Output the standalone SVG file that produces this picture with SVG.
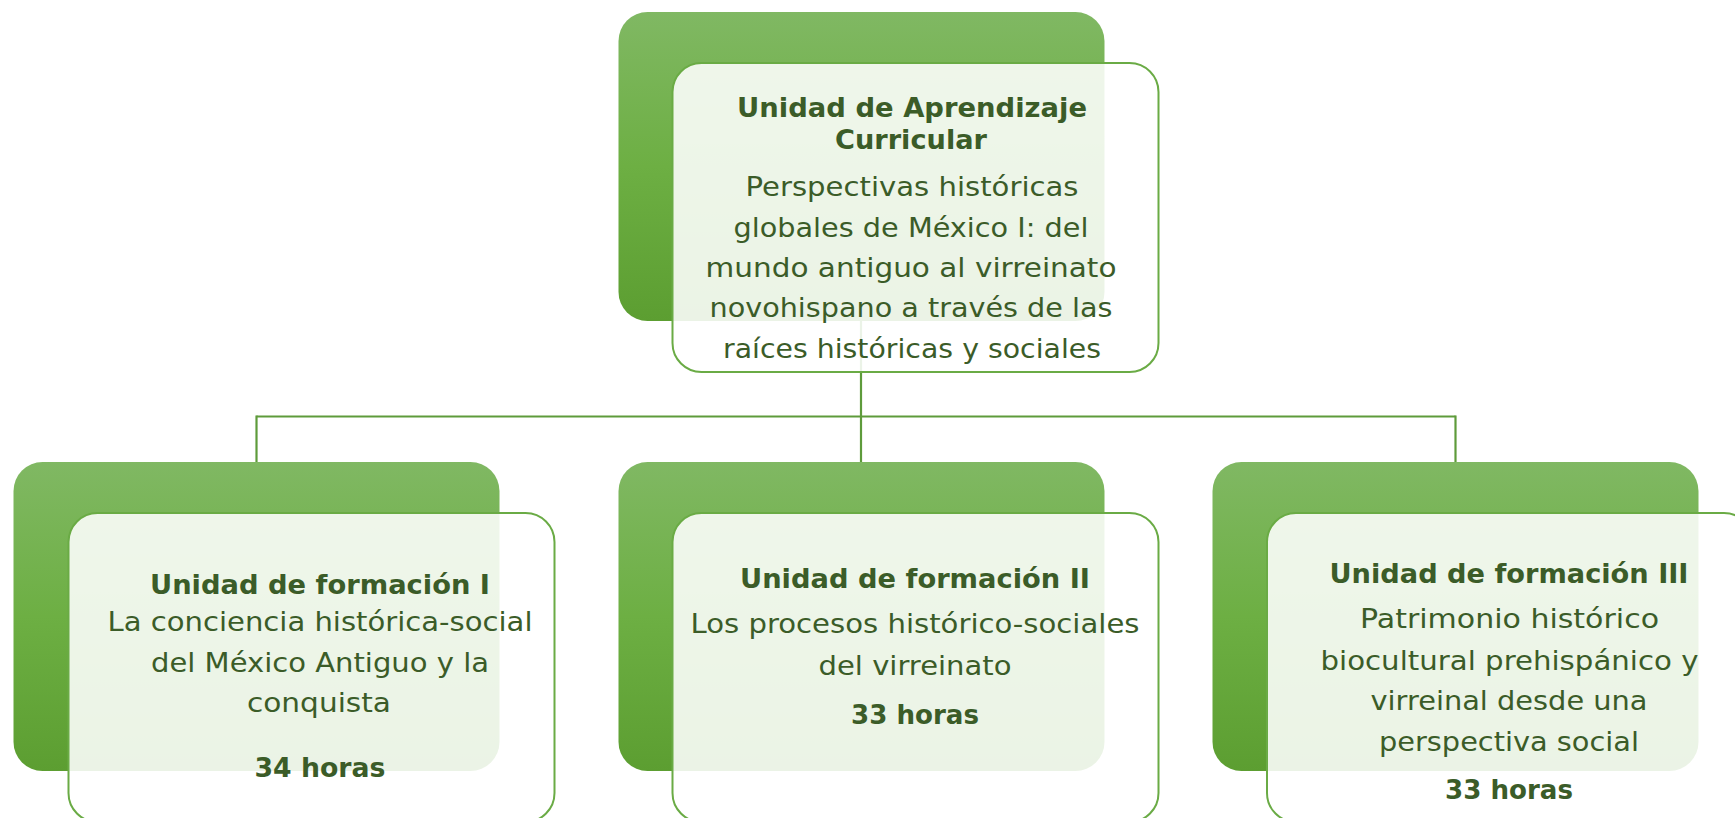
<svg xmlns="http://www.w3.org/2000/svg" width="1735" height="818" viewBox="0 0 1735 818">
  <defs>
    <linearGradient id="gr" x1="0" y1="0" x2="0" y2="1">
      <stop offset="0" stop-color="#80b863"/>
      <stop offset="0.5" stop-color="#6daf43"/>
      <stop offset="1" stop-color="#5c9e31"/>
    </linearGradient>
    <style>
      .back { fill: url(#gr); }
      .front { fill: #ffffff; fill-opacity: 0.88; stroke: #6aab45; stroke-width: 2; }
      .conn { fill: none; stroke: #5e9b3b; stroke-width: 2.2; }
      text { font-family: "DejaVu Sans", "Noto Sans", sans-serif; font-size: 27px; fill: #3b5c28; text-anchor: middle; }
      .b { font-weight: bold; }
    </style>
  </defs>
  <rect width="1735" height="818" fill="#ffffff"/>

  <g id="connectors">
    <path class="conn" d="M861,321 V416.5"/>
    <path class="conn" d="M256.5,416.5 H1455.5"/>
    <path class="conn" d="M256.5,415.5 V462"/>
    <path class="conn" d="M861,416.5 V462"/>
    <path class="conn" d="M1455.5,415.5 V462"/>
  </g>

  <g id="node-top">
    <rect class="back" x="618.5" y="12" width="486" height="309" rx="29"/>
    <rect class="front" x="672.5" y="63" width="486" height="309" rx="29"/>
    <text class="b" x="912" y="117" textLength="350" lengthAdjust="spacingAndGlyphs">Unidad de Aprendizaje</text>
    <text class="b" x="911" y="149" textLength="152" lengthAdjust="spacingAndGlyphs">Curricular</text>
    <text x="912" y="196" textLength="333" lengthAdjust="spacingAndGlyphs">Perspectivas históricas</text>
    <text x="911" y="237" textLength="355" lengthAdjust="spacingAndGlyphs">globales de México I: del</text>
    <text x="911" y="277" textLength="411" lengthAdjust="spacingAndGlyphs">mundo antiguo al virreinato</text>
    <text x="911" y="317" textLength="403" lengthAdjust="spacingAndGlyphs">novohispano a través de las</text>
    <text x="912" y="358" textLength="378" lengthAdjust="spacingAndGlyphs">raíces históricas y sociales</text>
  </g>

  <g id="node-uf1">
    <rect class="back" x="13.5" y="462" width="486" height="309" rx="29"/>
    <rect class="front" x="68.5" y="513" width="486" height="309" rx="29"/>
    <text class="b" x="320" y="594" textLength="340" lengthAdjust="spacingAndGlyphs">Unidad de formación I</text>
    <text x="320" y="631" textLength="425" lengthAdjust="spacingAndGlyphs">La conciencia histórica-social</text>
    <text x="320" y="672" textLength="338" lengthAdjust="spacingAndGlyphs">del México Antiguo y la</text>
    <text x="319" y="712" textLength="144" lengthAdjust="spacingAndGlyphs">conquista</text>
    <text class="b" x="320" y="777" textLength="131" lengthAdjust="spacingAndGlyphs">34 horas</text>
  </g>

  <g id="node-uf2">
    <rect class="back" x="618.5" y="462" width="486" height="309" rx="29"/>
    <rect class="front" x="672.5" y="513" width="486" height="309" rx="29"/>
    <text class="b" x="915" y="588" textLength="350" lengthAdjust="spacingAndGlyphs">Unidad de formación II</text>
    <text x="915" y="633" textLength="449" lengthAdjust="spacingAndGlyphs">Los procesos histórico-sociales</text>
    <text x="915" y="675" textLength="193" lengthAdjust="spacingAndGlyphs">del virreinato</text>
    <text class="b" x="915" y="724" textLength="128" lengthAdjust="spacingAndGlyphs">33 horas</text>
  </g>

  <g id="node-uf3">
    <rect class="back" x="1212.5" y="462" width="486" height="309" rx="29"/>
    <rect class="front" x="1267" y="513" width="486" height="309" rx="29"/>
    <text class="b" x="1509" y="583" textLength="359" lengthAdjust="spacingAndGlyphs">Unidad de formación III</text>
    <text x="1509.5" y="628" textLength="299" lengthAdjust="spacingAndGlyphs">Patrimonio histórico</text>
    <text x="1509.5" y="670" textLength="378" lengthAdjust="spacingAndGlyphs">biocultural prehispánico y</text>
    <text x="1509" y="710" textLength="277" lengthAdjust="spacingAndGlyphs">virreinal desde una</text>
    <text x="1509" y="751" textLength="260" lengthAdjust="spacingAndGlyphs">perspectiva social</text>
    <text class="b" x="1509" y="799" textLength="128" lengthAdjust="spacingAndGlyphs">33 horas</text>
  </g>
</svg>
